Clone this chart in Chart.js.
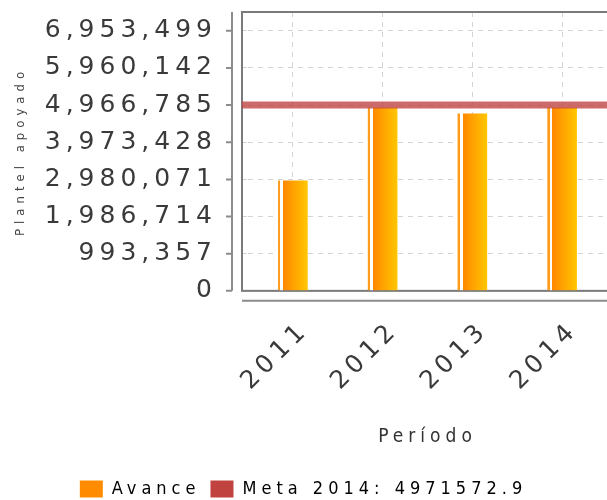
<!DOCTYPE html>
<html>
<head>
<meta charset="utf-8">
<script src="https://cdn.jsdelivr.net/npm/chart.js@4"></script>
<style>
  html, body { margin: 0; padding: 0; background: #fff; overflow: hidden; }
  #wrap { width: 607px; height: 500px; }
</style>
</head>
<body>
<div id="wrap"><canvas id="grafica"></canvas></div>
<script>
// Datos
var periodos = ['2011', '2012', '2013', '2014']
var avance = [2950000, 4900000, 4740000, 4900000]
var meta = 4971572.9
var yTicks = [0, 993357, 1986714, 2980071, 3973428, 4966785, 5960142, 6953499]
var yMax = 7455000

var fuenteAngosta = "'DejaVu Sans Condensed', 'Liberation Sans Narrow', 'DejaVu Sans', sans-serif"

// Relleno degradado de cada barra (franja fina a la izquierda + degradado naranja)
function rellenoBarra(ctx) {
    var chart = ctx.chart
    var x = chart.scales.x
    if (!x || ctx.dataIndex === undefined || !x.width) return '#ff8c00'
    var c = x.getPixelForValue(ctx.dataIndex)
    var mitad = (x.width / periodos.length) * 0.33 / 2
    var g = chart.ctx.createLinearGradient(c - mitad, 0, c + mitad, 0)
    g.addColorStop(0, '#ff9c1c')
    g.addColorStop(0.08, '#ff9c1c')
    g.addColorStop(0.08, '#ffffff')
    g.addColorStop(0.17, '#ffffff')
    g.addColorStop(0.17, '#ff8800')
    g.addColorStop(1, '#ffc600')
    return g
}

// Marco del área, ejes separados y espaciado de letras
var marco = {
    id: 'marco',
    beforeUpdate: function (chart) { chart.ctx.letterSpacing = '5px' },
    beforeDraw: function (chart) { chart.ctx.letterSpacing = '5px' },
    beforeDatasetsDraw: function (chart) {
        var a = chart.chartArea
        var ctx = chart.ctx
        var y = chart.scales.y
        ctx.save()
        ctx.strokeStyle = '#7a7a7a'
        ctx.lineWidth = 2
        ctx.strokeRect(a.left - 6, a.top, a.right - a.left + 10, a.bottom - a.top)
        ctx.strokeStyle = '#8c8c8c'
        ctx.beginPath()
        ctx.moveTo(a.left - 16, a.top)
        ctx.lineTo(a.left - 16, a.bottom)
        y.ticks.forEach(function (t) {
            var py = y.getPixelForValue(t.value)
            ctx.moveTo(a.left - 22, py)
            ctx.lineTo(a.left - 16, py)
        })
        ctx.moveTo(a.left - 6, a.bottom + 10)
        ctx.lineTo(a.right + 2, a.bottom + 10)
        ctx.stroke()
        ctx.restore()
    }
}

var chart = new Chart(document.getElementById('grafica').getContext('2d'), {
    type: 'bar',
    data: {
        labels: periodos,
        datasets: [{
            label: 'Avance',
            data: avance,
            backgroundColor: rellenoBarra,
            categoryPercentage: 0.33,
            barPercentage: 1,
            grouped: false,
            order: 2
        }, {
            type: 'line',
            label: 'Meta 2014: ' + meta,
            data: [{ x: 0, y: meta }, { x: 1, y: meta }],
            xAxisID: 'x2',
            borderColor: 'rgba(192, 70, 70, 0.8)',
            backgroundColor: '#c0433f',
            borderWidth: 7,
            pointRadius: 0,
            clip: false,
            order: 1
        }]
    },
    options: {
        responsive: true,
        maintainAspectRatio: false,
        animation: false,
        layout: { padding: { top: 12, right: 0, bottom: -8, left: 0 } },
        scales: {
            x: {
                afterFit: function (scale) { scale.paddingLeft = 0; scale.paddingRight = 0 },
                grid: { offset: false, drawTicks: false, color: '#d4d4d4' },
                border: { display: false, dash: [5, 5] },
                ticks: {
                    font: { family: 'DejaVu Sans', size: 25 },
                    color: '#3a3a3a',
                    minRotation: 45,
                    maxRotation: 45,
                    autoSkip: false,
                    padding: 25,
                    labelOffset: 12
                },
                title: {
                    display: true,
                    text: 'Período',
                    font: { family: fuenteAngosta, size: 19 },
                    color: '#333',
                    padding: { top: 4, bottom: 22 }
                }
            },
            x2: { type: 'linear', display: false, offset: false, min: 0.017, max: 1 },
            y: {
                min: 0,
                max: yMax,
                afterBuildTicks: function (scale) {
                    scale.ticks = yTicks.map(function (v) { return { value: v } })
                },
                afterFit: function (scale) {
                    scale.width = 248
                    scale.paddingTop = 0
                    scale.paddingBottom = 0
                },
                grid: { color: '#d4d4d4', tickLength: 6, tickBorderDash: [5, 5], tickColor: '#d4d4d4' },
                border: { display: false, dash: [5, 5] },
                ticks: {
                    font: { family: 'DejaVu Sans', size: 25 },
                    color: '#3a3a3a',
                    padding: 25,
                    callback: function (v) { return v.toLocaleString('en-US') }
                },
                title: {
                    display: true,
                    text: 'Plantel apoyado',
                    font: { family: fuenteAngosta, size: 13 },
                    color: '#444',
                    padding: { top: 13, bottom: 0 }
                }
            }
        },
        plugins: {
            legend: {
                position: 'bottom',
                labels: {
                    font: { family: fuenteAngosta, size: 18 },
                    color: '#444',
                    boxWidth: 23,
                    boxHeight: 17,
                    padding: 10,
                    generateLabels: function (chart) {
                        var colores = ['#ff8c00', '#c0433f']
                        return chart.data.datasets.map(function (ds, i) {
                            return { text: ds.label, fillStyle: colores[i], strokeStyle: colores[i], lineWidth: 0, datasetIndex: i }
                        })
                    }
                }
            },
            tooltip: { enabled: false }
        }
    },
    plugins: [marco]
})
</script>
</body>
</html>
